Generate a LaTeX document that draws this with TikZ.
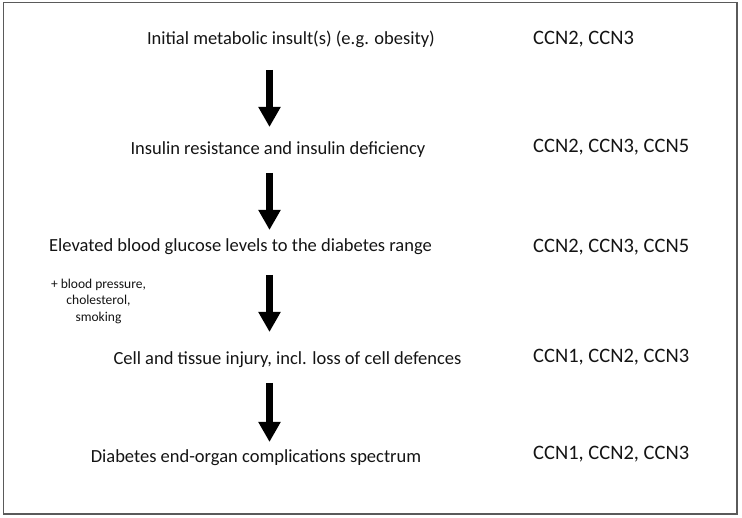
\documentclass[tikz,border=0pt]{standalone}
\usepackage{fontspec}
\setmainfont{Carlito}
\usepackage{tikz}
\usetikzlibrary{arrows.meta,positioning}
\usepackage{xcolor}
\definecolor{ink}{HTML}{141414}
\definecolor{frame}{HTML}{5A5A5A}
\tikzset{
  stage/.style={anchor=base,inner sep=0pt,text=ink,font=\fontsize{18.5}{22}\selectfont},
  ccnlist/.style={anchor=base west,inner sep=0pt,text=ink,font=\fontsize{20.5}{24}\selectfont},
  factor/.style={align=center,inner sep=0pt,text=ink,font=\fontsize{13.5}{16.5}\selectfont},
  bigarrow/.style={-{Triangle[width=21pt,length=20pt]},draw=black,line width=7pt}
}

\begin{document}
\begin{tikzpicture}[x=1pt,y=-1pt]
        \useasboundingbox (0,0) rectangle (742,518);
        \draw[frame,line width=1.8pt] (3.5,2.5) rectangle (737,514);
        \node[stage] (s1) at (291,45) {Initial metabolic insult(s) (e.g. obesity)};
        \node[stage] (s2) at (278,155) {Insulin resistance and insulin deficiency};
        \node[stage] (s3) at (240.5,252) {Elevated blood glucose levels to the diabetes range};
        \node[stage] (s4) at (287.5,365) {Cell and tissue injury, incl. loss of cell defences};
        \node[stage] (s5) at (256,463) {Diabetes end-organ complications spectrum};
        \node[ccnlist] (c1) at (533,45) {CCN2, CCN3};
        \node[ccnlist] (c2) at (533,153) {CCN2, CCN3, CCN5};
        \node[ccnlist] (c3) at (533,253) {CCN2, CCN3, CCN5};
        \node[ccnlist] (c4) at (533,363) {CCN1, CCN2, CCN3};
        \node[ccnlist] (c5) at (533,460) {CCN1, CCN2, CCN3};
        \node[factor] (f3) at (98.5,301) {+ blood pressure,\\cholesterol,\\smoking};
        \coordinate (a1) at (269.5,70);  \coordinate (b1) at (269.5,127);
        \coordinate (a2) at (269.5,173); \coordinate (b2) at (269.5,230);
        \coordinate (a3) at (269.5,275); \coordinate (b3) at (269.5,332);
        \coordinate (a4) at (269.5,383); \coordinate (b4) at (269.5,442);
        \draw[bigarrow] (a1)--(b1);
        \draw[bigarrow] (a2)--(b2);
        \draw[bigarrow] (a3)--(b3);
        \draw[bigarrow] (a4)--(b4);
      \end{tikzpicture}
\end{document}
